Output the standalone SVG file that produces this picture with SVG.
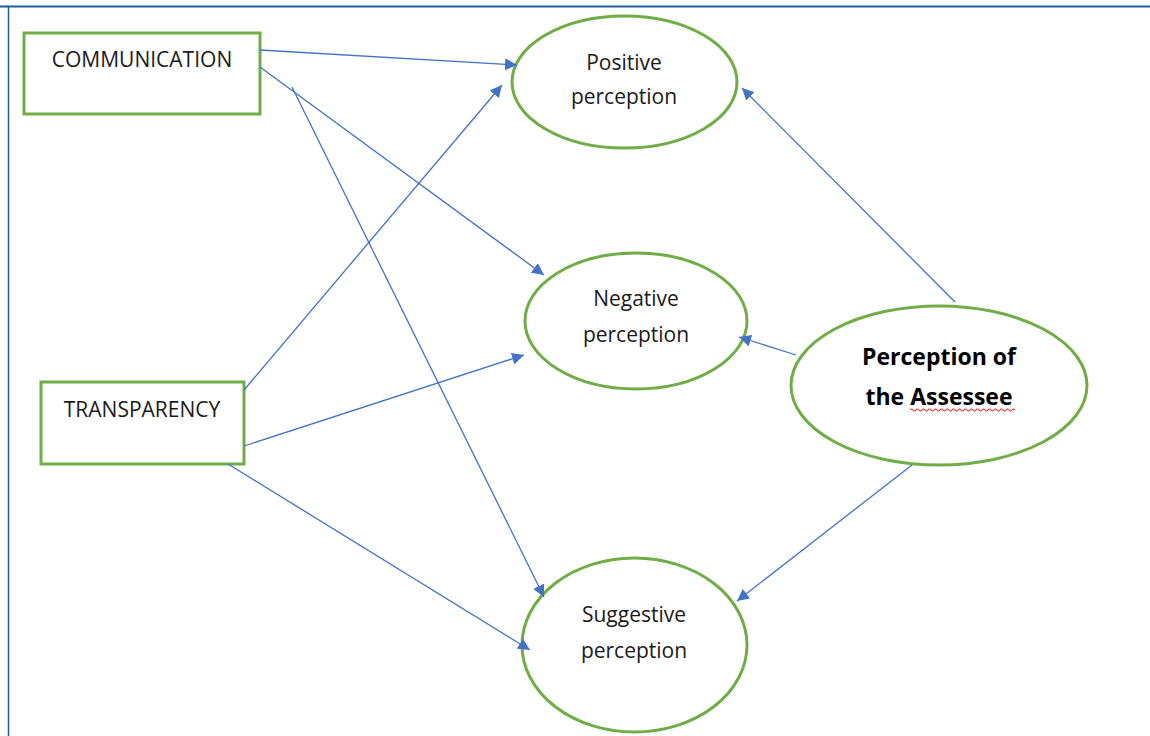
<svg xmlns="http://www.w3.org/2000/svg" width="1150" height="736" viewBox="0 0 1150 736">
<defs>
<marker id="ah" viewBox="0 0 10 10" refX="10" refY="5" markerWidth="12" markerHeight="12" markerUnits="userSpaceOnUse" orient="auto">
<path d="M0,0 L10,5 L0,10 z" fill="#4472C4"/>
</marker>
<style>
.box{fill:#fff;stroke:#70AD47;stroke-width:3}
.ell{fill:#fff;stroke:#70AD47;stroke-width:3}
.t{font-family:"Open Sans","Liberation Sans",Arial,sans-serif;font-size:21px;fill:#1a1a1a;text-anchor:middle}
.b{font-family:"Open Sans","Liberation Sans",Arial,sans-serif;font-size:23px;font-weight:bold;fill:#000;text-anchor:middle}
.c{stroke:#4472C4;stroke-width:1.3;fill:none;marker-end:url(#ah)}
</style>
</defs>
<rect width="1150" height="736" fill="#fff"/>
<line x1="0" y1="6.5" x2="1150" y2="6.5" stroke="#1F5C99" stroke-width="2"/>
<line x1="8.5" y1="6" x2="8.5" y2="736" stroke="#1F5C99" stroke-width="1.5"/>
<g id="n-communication"><rect class="box" x="24" y="33" width="236" height="81"/><text class="t" x="142" y="67">COMMUNICATION</text></g>
<g id="n-transparency"><rect class="box" x="41" y="382" width="203" height="82"/><text class="t" x="142" y="417">TRANSPARENCY</text></g>
<g id="n-positive"><ellipse class="ell" cx="624.5" cy="82" rx="112.5" ry="66"/><text class="t" x="624" y="70">Positive</text><text class="t" x="624" y="104">perception</text></g>
<g id="n-negative"><ellipse class="ell" cx="636" cy="321" rx="111" ry="68"/><text class="t" x="636" y="306">Negative</text><text class="t" x="636" y="342">perception</text></g>
<g id="n-suggestive"><ellipse class="ell" cx="634.5" cy="645" rx="112.5" ry="87"/><text class="t" x="634" y="622">Suggestive</text><text class="t" x="634" y="658">perception</text></g>
<g id="n-assessee"><ellipse class="ell" cx="939" cy="385.5" rx="148" ry="79.5"/><text class="b" x="939" y="365">Perception of</text><text class="b" x="939" y="405">the Assessee</text>
<path d="M910,410 q1.5,-2 3,0 t3,0 t3,0 t3,0 t3,0 t3,0 t3,0 t3,0 t3,0 t3,0 t3,0 t3,0 t3,0 t3,0 t3,0 t3,0 t3,0 t3,0 t3,0 t3,0 t3,0 t3,0 t3,0 t3,0 t3,0 t3,0 t3,0 t3,0 t3,0 t3,0 t3,0 t3,0 t3,0 t3,0 t3,0" fill="none" stroke="#E53935" stroke-width="1.2"/></g>
<g id="connectors">
<line class="c" x1="260" y1="50" x2="517" y2="65"/>
<line class="c" x1="260" y1="67" x2="544" y2="275"/>
<line class="c" x1="292" y1="87" x2="544" y2="597"/>
<line class="c" x1="244" y1="390" x2="502" y2="85"/>
<line class="c" x1="244" y1="446" x2="524" y2="355"/>
<line class="c" x1="228" y1="464" x2="530" y2="650"/>
<line class="c" x1="955" y1="302" x2="742" y2="88"/>
<line class="c" x1="796" y1="355" x2="739" y2="337"/>
<line class="c" x1="912" y1="465" x2="737" y2="601"/>
</g>
</svg>
